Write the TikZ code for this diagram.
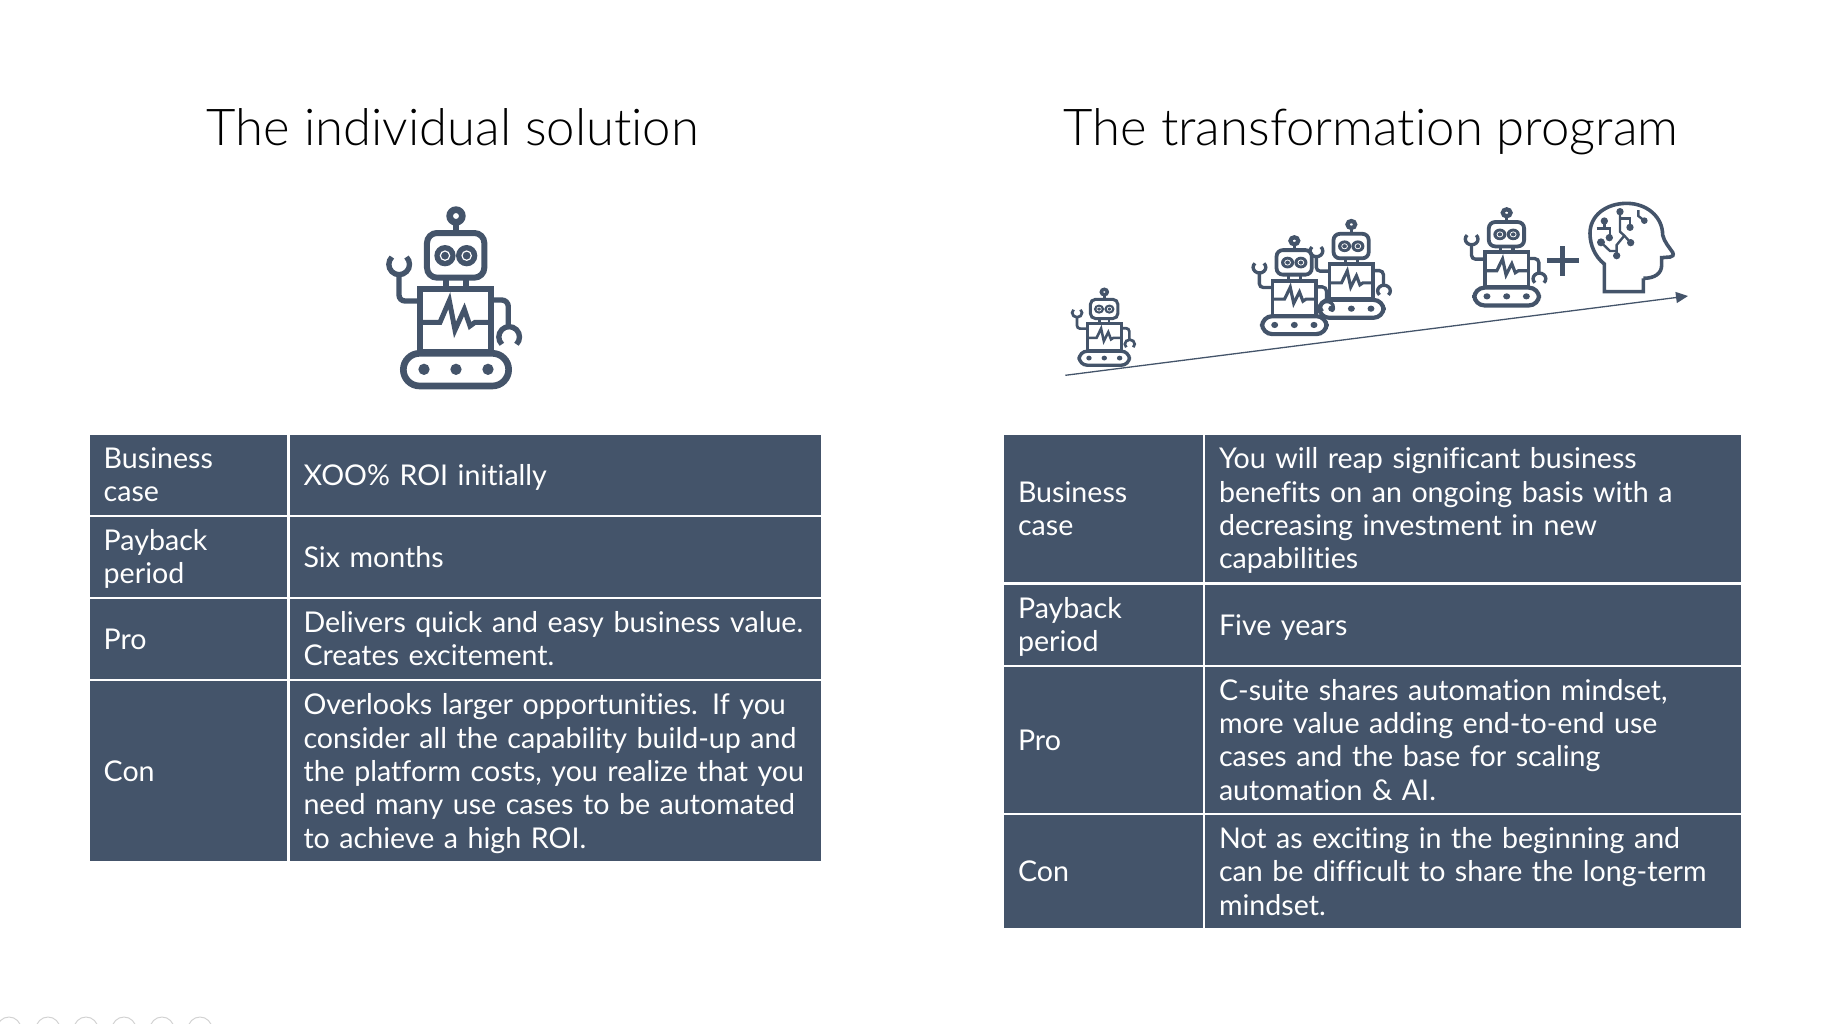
\documentclass[tikz,border=0pt]{standalone}
\usepackage{fontspec}
\setmainfont{Lato}[Ligatures=CommonOff]
\newfontfamily\titlefont{Lato Light}[Ligatures=CommonOff]
\usetikzlibrary{arrows.meta}
\definecolor{slate}{HTML}{44546A}
\tikzset{
  cellbox/.style={fill=slate,draw=white,line width=2.6pt,text=white,inner ysep=0pt,inner xsep=15pt,align=left,anchor=center,font=\fontsize{28.6}{33.4}\selectfont},
  titletext/.style={text=black,font=\titlefont\fontsize{50.8}{60}\selectfont,anchor=base},
}
\newcommand{\tcell}[6]{%
  \pgfmathsetmacro\cw{#4-#2}\pgfmathsetmacro\ch{#5-#3}\pgfmathsetmacro\ctw{#4-#2-30}%
  \pgfmathsetmacro\cx{(#2+#4)/2}\pgfmathsetmacro\cy{(#3+#5)/2}%
  \node[cellbox,minimum width=\cw pt,minimum height=\ch pt,text width=\ctw pt] (#1) at (\cx,\cy) {\rule{0pt}{26.9pt}#6\rule[-6.5pt]{0pt}{6.5pt}};}
\newcommand{\robotfig}[5]{%
  \pgfmathsetmacro\rk{#5}%
  \begin{scope}[shift={(#1,#2)},x=1pt,y=1pt,xscale=#3,yscale=-#4,draw=slate,fill=slate]
    \draw[line width=\rk*20pt] (288,78) circle[radius=19];
    \draw[line width=\rk*16pt] (288,105) -- (288,130);
    \draw[line width=\rk*18pt] (201,129) [rounded corners=30pt*\rk] -- (373,129) -- (373,263) -- (201,263) -- cycle;
    \fill (255,197) circle[radius=32];
    \fill (320,197) circle[radius=32];
    \draw[white,line width=\rk*3.5pt] (255,197) circle[radius=14];
    \draw[white,line width=\rk*3.5pt] (320,197) circle[radius=14];
    \draw[line width=\rk*16pt] (258,263) -- (258,296);
    \draw[line width=\rk*16pt] (318,263) -- (318,296);
    \draw[line width=\rk*18pt] (181,296) rectangle (394,487);
    \draw[line width=\rk*15pt,line join=miter,miter limit=10] (186,397) -- (240,397) -- (268,332) -- (285,420) -- (313,358) -- (330,408) -- (345,397) -- (388,397);
    \draw[line width=\rk*16pt] (117,255) [rounded corners=18pt*\rk] -- (117,333) -- (181,333);
    \draw[line width=\rk*16pt] (117.5,223) ++(-45:31) arc[start angle=-45,end angle=225,radius=31];
    \draw[line width=\rk*16pt] (394,330) [rounded corners=20pt*\rk] -- (445,330) -- (445,410);
    \draw[line width=\rk*16pt] (447.5,441) ++(135:31) arc[start angle=135,end angle=405,radius=31];
    \draw[line width=\rk*20pt] (130,490) [rounded corners=49pt*\rk] -- (446,490) -- (446,588) -- (130,588) -- cycle;
    \fill (192,538) circle[radius=17];
    \fill (288,538) circle[radius=17];
    \fill (384,538) circle[radius=17];
  \end{scope}}
\begin{document}
\begin{tikzpicture}[x=1pt,y=-1pt]
\useasboundingbox (0,0) rectangle (1843,1023);
% page-bottom circles
\begin{scope}
  \clip (0,0) rectangle (1843,1023);
  \foreach \px in {9,48,86,124,162,200}
    \draw[gray!35,line width=1pt] (\px,1029) circle[radius=12pt];
\end{scope}
% titles
\node[titletext] (titleA) at (453,145) {The individual solution};
\node[titletext] (titleB) at (1371,145) {The transformation program};
% robots
\robotfig{360}{190}{0.3333}{0.3333}{0.3333}
\robotfig{1058.3}{280.8}{0.1597}{0.1436}{0.17}
\robotfig{1292.4}{210.2}{0.2046}{0.183}{0.21}
\robotfig{1235.4}{226.5}{0.2046}{0.183}{0.21}
\robotfig{1447.5}{198.6}{0.2054}{0.1817}{0.21}
% plus
\draw[slate,line width=4.6pt] (1546.7,260.7) -- (1579.3,260.7);
\draw[slate,line width=4.6pt] (1562.7,246) -- (1562.7,276);
% head with circuits
\begin{scope}[shift={(1440,190)},x=1pt,y=1pt,xscale=0.3333,yscale=-0.3333,draw=slate,fill=slate]
  \draw[line width=3.6pt] (610,265) -- (610,305) -- (493,305) -- (493,222) .. controls (465,200) and (450,165) .. (450,130) .. controls (450,75) and (500,40) .. (560,40) .. controls (620,40) and (668,80) .. (668,135) .. controls (672,155) and (690,175) .. (698,187) .. controls (702,195) and (698,201) .. (690,201) -- (665,203) -- (665,225) .. controls (665,250) and (645,265) .. (610,265);
  \foreach \ux/\uy/\ur in {493/93/11,508/143/11,540/65/11,570/112/11,572/158/11,530/197/11,483/157/12,613/92/10}
    \fill (\ux,\uy) circle[radius=\ur];
  \draw[line width=2.4pt] (493,93) -- (493,115);
  \draw[line width=2.4pt] (470,115) -- (510,115) -- (510,143);
  \draw[line width=2.4pt] (540,65) -- (540,125) -- (553,137) -- (572,158);
  \draw[line width=2.4pt] (540,85) -- (570,85) -- (570,112);
  \draw[line width=2.4pt] (553,137) -- (530,165) -- (530,197);
  \draw[line width=2.4pt] (483,157) -- (510,183) -- (530,183);
  \draw[line width=2.4pt] (595,60) -- (595,78) -- (613,92);
\end{scope}
% arrow
\coordinate (arrowStart) at (1065.3,375.3);
\coordinate (arrowEnd) at (1688,296);
\draw[slate,line width=1.3pt,-{Triangle[length=12pt,width=11pt]}] (arrowStart) -- (arrowEnd);
% left table
\tcell{a1}{88.7}{433.7}{288.5}{516}{Business\\case}
\tcell{a2}{288.5}{433.7}{822.5}{516}{XOO\% ROI initially}
\tcell{a3}{88.7}{516}{288.5}{598}{Payback\\period}
\tcell{a4}{288.5}{516}{822.5}{598}{Six months}
\tcell{a5}{88.7}{598}{288.5}{680}{Pro}
\tcell{a6}{288.5}{598}{822.5}{680}{Delivers quick and easy business value.\\Creates excitement.}
\tcell{a7}{88.7}{680}{288.5}{862.5}{Con}
\tcell{a8}{288.5}{680}{822.5}{862.5}{Overlooks larger opportunities. If you\\consider all the capability build-up and\\the platform costs, you realize that you\\need many use cases to be automated\\to achieve a high ROI.}
% right table
\tcell{b1}{1003}{433.7}{1204}{583.6}{Business\\case}
\tcell{b2}{1204}{433.7}{1742}{583.6}{You will reap significant business\\benefits on an ongoing basis with a\\decreasing investment in new\\capabilities}
\tcell{b3}{1003}{583.6}{1204}{666}{Payback\\period}
\tcell{b4}{1204}{583.6}{1742}{666}{Five years}
\tcell{b5}{1003}{666}{1204}{814}{Pro}
\tcell{b6}{1204}{666}{1742}{814}{C-suite shares automation mindset,\\more value adding end-to-end use\\cases and the base for scaling\\automation \& AI.}
\tcell{b7}{1003}{814}{1204}{929.5}{Con}
\tcell{b8}{1204}{814}{1742}{929.5}{Not as exciting in the beginning and\\can be difficult to share the long-term\\mindset.}
\end{tikzpicture}
\end{document}
